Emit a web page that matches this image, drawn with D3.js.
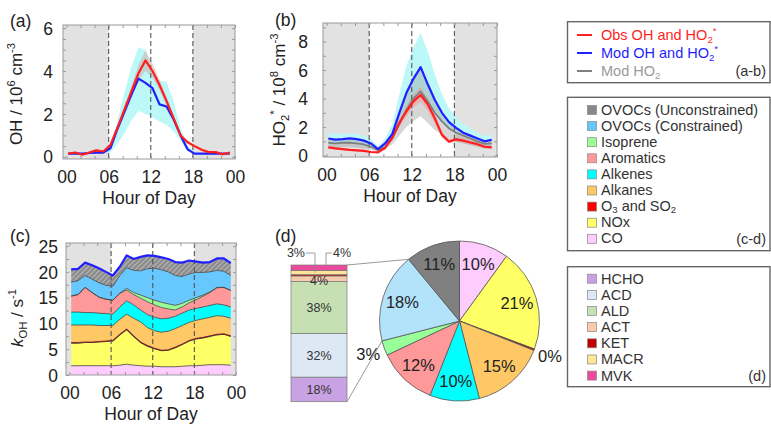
<!DOCTYPE html>
<html>
<head>
<meta charset="utf-8">
<script src="https://cdn.jsdelivr.net/npm/d3@7"></script>
<style>
  body { margin: 0; background: #fff; }
  svg { font-family: "Liberation Sans", Arial, sans-serif; }
</style>
</head>
<body>
<svg id="chart" width="771" height="424"></svg>
<script>
// ---- data ----
var hours = [0.25, 1.25, 2.25, 3.25, 4.25, 5.25, 6.25, 7.25, 8.25, 9.25, 10.25, 11.25,
             12.25, 13.25, 14.25, 15.25, 16.25, 17.25, 18.25, 19.25, 20.25, 21.25, 22.25, 23.25];
var hourTicks = [0, 6, 12, 18, 24];
var hourLabels = ["00", "06", "12", "18", "00"];

// (a) OH, 10^6 cm-3
var obsOH   = [0.15,0.2,0.1,0.2,0.3,0.25,0.55,1.35,2.2,3.05,3.9,4.5,4.0,3.35,2.6,1.8,1.0,0.68,0.5,0.33,0.22,0.22,0.12,0.2];
var obsOHlo = [0.1,0.15,0.05,0.15,0.25,0.2,0.45,1.2,2.0,2.8,3.6,4.0,3.7,3.1,2.4,1.65,0.9,0.6,0.45,0.28,0.18,0.18,0.08,0.15];
var obsOHhi = [0.2,0.25,0.15,0.25,0.35,0.3,0.65,1.5,2.4,3.3,4.3,4.95,4.35,3.6,2.8,1.95,1.1,0.76,0.55,0.38,0.26,0.26,0.16,0.25];
var modOH   = [0.15,0.15,0.15,0.18,0.2,0.2,0.4,1.3,2.1,2.9,3.65,3.45,3.2,2.45,2.35,1.75,1.0,0.35,0.15,0.15,0.15,0.15,0.15,0.15];
var modOHlo = [0.12,0.12,0.12,0.15,0.17,0.17,0.2,0.6,1.1,1.7,2.15,2.0,1.85,1.65,1.5,1.2,0.75,0.25,0.12,0.12,0.12,0.12,0.12,0.12];
var modOHhi = [0.2,0.2,0.2,0.22,0.25,0.25,0.5,1.7,3.0,4.2,5.1,5.0,4.0,3.55,3.5,2.6,1.35,0.5,0.2,0.2,0.2,0.2,0.2,0.2];

// (b) HO2*, 10^8 cm-3
var obsHO2   = [0.58,0.5,0.45,0.4,0.37,0.33,0.25,0.22,0.55,1.25,2.3,3.1,3.8,4.25,3.6,2.6,1.45,0.98,1.14,1.05,0.92,0.8,0.62,0.58];
var obsHO2lo = [0.48,0.42,0.38,0.33,0.3,0.27,0.2,0.17,0.45,1.05,2.0,2.75,3.4,3.75,3.15,2.25,1.25,0.85,1.0,0.92,0.8,0.68,0.52,0.48];
var obsHO2hi = [0.68,0.6,0.54,0.48,0.44,0.4,0.3,0.27,0.65,1.45,2.6,3.5,4.3,4.8,4.05,2.95,1.65,1.12,1.28,1.18,1.04,0.92,0.72,0.68];
var modHO2s   = [1.2,1.12,1.15,1.2,1.15,1.05,0.85,0.45,0.85,1.5,3.0,4.4,5.4,6.2,5.0,3.9,3.0,2.35,1.95,1.6,1.4,1.2,1.0,1.1];
var modHO2sHi = [1.6,1.5,1.55,1.55,1.5,1.4,1.15,0.65,1.2,2.2,4.3,6.3,7.6,8.6,7.3,5.7,4.3,3.3,2.7,2.2,1.9,1.6,1.35,1.5];
var modHO2    = [0.9,0.85,0.9,0.9,0.85,0.78,0.62,0.38,0.6,1.2,2.2,3.2,4.0,4.5,3.8,3.0,2.4,1.9,1.6,1.4,1.2,1.0,0.82,0.85];
var modHO2lo  = [0.6,0.55,0.6,0.6,0.55,0.5,0.4,0.25,0.4,0.8,1.4,2.0,2.45,2.75,2.3,1.8,1.45,1.15,0.95,0.85,0.72,0.6,0.5,0.52];

// (c) kOH contributions, s-1
var kCO        = [1.8,1.8,1.8,1.8,1.8,1.8,1.8,1.9,2.1,1.9,1.8,1.7,1.7,1.6,1.6,1.6,1.7,1.8,1.8,1.9,2.0,2.0,2.0,1.9];
var kNOx       = [4.4,4.4,4.5,4.5,4.6,4.7,4.8,5.9,6.7,5.6,4.5,3.9,3.4,3.1,3.2,3.7,4.2,4.8,5.2,5.3,5.5,5.8,5.9,5.6];
var kO3SO2     = [0.1,0.1,0.1,0.1,0.1,0.1,0.1,0.1,0.1,0.1,0.1,0.1,0.1,0.1,0.1,0.1,0.1,0.1,0.1,0.1,0.1,0.1,0.1,0.1];
var kAlkanes   = [3.4,3.4,3.3,3.3,3.1,3.0,2.9,2.9,2.9,3.4,3.9,3.5,3.4,3.5,3.6,3.6,3.6,3.5,3.5,3.6,3.6,3.6,3.4,3.4];
var kAlkenes   = [2.5,2.5,2.4,2.4,2.4,2.3,2.2,2.4,2.6,2.6,2.3,2.5,2.6,2.6,2.5,2.4,2.4,2.4,2.3,2.3,2.3,2.3,2.2,2.2];
var kAromatics = [3.1,3.4,4.9,3.9,3.1,2.8,2.7,2.6,2.1,2.0,2.3,2.5,2.4,2.2,1.8,1.2,1.2,1.4,1.7,2.1,2.5,3.1,3.4,3.2];
var kIsoprene  = [0,0,0,0,0,0,0,0.1,0.3,0.4,0.6,0.8,0.9,1.0,1.0,0.9,0.7,0.5,0.4,0.2,0.1,0.1,0,0];
var kOVOCc     = [2.7,2.7,2.3,2.6,2.8,2.7,2.7,3.4,4.0,4.3,4.7,5.6,6.2,6.3,6.2,5.8,5.2,5.1,4.9,4.4,3.9,3.3,3.1,2.9];
var kOVOCu     = [2.5,2.3,2.5,2.7,2.8,2.6,2.1,1.7,2.4,2.2,2.7,2.6,2.4,2.4,2.5,2.6,2.7,2.6,2.1,1.9,1.9,2.3,2.5,2.4];

// (d) mean shares, %
var pieNames = ["CO", "NOx", "O3 and SO2", "Alkanes", "Alkenes", "Aromatics", "Isoprene", "OVOCs (Constrained)", "OVOCs (Unconstrained)"];
var pieVals  = [10, 20.7, 0.3, 15, 10, 12, 3, 18, 11];
var barNames = ["HCHO", "ACD", "ALD", "ACT", "KET", "MACR", "MVK"];
var barVals  = [18, 32, 38, 4, 1, 3, 4];

// ---- styles ----
var FONT = '"Liberation Sans", Arial, sans-serif';
var RED = "#ff1f1f", BLUE = "#1f1fff", GREY = "#7f7f7f";
var kColors = {CO: "#ffccff", NOx: "#ffff66", O3SO2: "#ff0000", Alkanes: "#ffc866", Alkenes: "#00ffff",
               Aromatics: "#ff9999", Isoprene: "#99ff99", OVOCc: "#66c8ff", OVOCu: "#888888"};
var pieColors = ["#ffccff", "#ffff66", "#cc0000", "#ffc866", "#00ffff", "#ff9999", "#99ff99", "#b3e3fa", "#808080"];
var barColors = ["#c8a2e2", "#dde8f5", "#c6e0b4", "#f8cbad", "#c00000", "#ffe699", "#ea4a9c"];

var svg = d3.select("#chart");

var defs = svg.append("defs");
var pat = defs.append("pattern").attr("id", "hatch")
    .attr("patternUnits", "userSpaceOnUse").attr("width", 5).attr("height", 5);
pat.append("rect").attr("width", 5).attr("height", 5).attr("fill", "#8c8c8c");
pat.append("path").attr("d", "M-1,6 L6,-1 M-1,1 L1,-1 M4,6 L6,4").attr("stroke", "#b5b5b5").attr("stroke-width", 1.2);

// text with sub/superscripts: parts = [[text, kind]] kind: "", "sub", "sup", "it"
function richText(sel, parts, fs, subShift) {
  var shift = 0, sb = subShift || 0.25;
  parts.forEach(function(p) {
    var t = sel.append("tspan").text(p[0]);
    var target = p[1] === "sup" ? -0.4 * fs : (p[1] === "sub" ? sb * fs : 0);
    if (target !== shift) t.attr("dy", target - shift);
    shift = target;
    if (p[1] === "sup" || p[1] === "sub") t.attr("font-size", fs * 0.66);
    if (p[1] === "it") t.attr("font-style", "italic");
  });
}

function timePanel(o) {
  var x = d3.scaleLinear().domain([-0.5, 24]).range([o.left, o.right]);
  var y = d3.scaleLinear().domain(o.yDomain).range([o.bottom, o.top]);
  var g = svg.append("g");
  g.append("rect").attr("x", x(-0.5)).attr("y", o.top)
    .attr("width", x(6) - x(-0.5)).attr("height", o.bottom - o.top).attr("fill", "#e2e2e2");
  g.append("rect").attr("x", x(18)).attr("y", o.top)
    .attr("width", x(24) - x(18)).attr("height", o.bottom - o.top).attr("fill", "#e2e2e2");
  return {x: x, y: y, g: g, o: o};
}

function dashes(p) {
  p.g.selectAll(".dash").data([6, 12, 18]).enter().append("line")
    .attr("x1", function(d) { return p.x(d); }).attr("x2", function(d) { return p.x(d); })
    .attr("y1", p.o.top).attr("y2", p.o.bottom)
    .attr("stroke", "#555").attr("stroke-width", 1.1).attr("stroke-dasharray", "5,3");
}

function frame(p) {
  var o = p.o, g = p.g;
  g.append("rect").attr("x", o.left).attr("y", o.top)
    .attr("width", o.right - o.left).attr("height", o.bottom - o.top)
    .attr("fill", "none").attr("stroke", "#9a9a9a").attr("stroke-width", 1);
  var minor = d3.range(0, 24.1, 2);
  [["b", d3.axisBottom, o.bottom], ["t", d3.axisTop, o.top]].forEach(function(a) {
    g.append("g").attr("transform", "translate(0," + a[2] + ")")
      .call(a[1](p.x).tickValues(minor).tickSize(-3).tickFormat(""))
      .call(function(s) { s.select(".domain").remove(); s.selectAll("line").attr("stroke", "#999"); });
  });
  [[d3.axisLeft, o.left], [d3.axisRight, o.right]].forEach(function(a) {
    g.append("g").attr("transform", "translate(" + a[1] + ",0)")
      .call(a[0](p.y).tickValues(o.minorY).tickSize(-3).tickFormat(""))
      .call(function(s) { s.select(".domain").remove(); s.selectAll("line").attr("stroke", "#999"); });
  });
  // labelled axes
  g.append("g").attr("transform", "translate(0," + o.bottom + ")")
    .call(d3.axisBottom(p.x).tickValues(hourTicks).tickSize(0)
      .tickFormat(function(d, i) { return hourLabels[i]; }))
    .call(function(s) {
      s.select(".domain").remove();
      s.selectAll("text").attr("y", 24).attr("dy", 0).attr("font-size", 17.5)
        .attr("font-family", FONT).attr("fill", "#222");
    });
  g.append("g").attr("transform", "translate(" + o.left + ",0)")
    .call(d3.axisLeft(p.y).tickValues(o.yTicks).tickSize(0).tickPadding(o.gap).tickFormat(d3.format("d")))
    .call(function(s) {
      s.select(".domain").remove();
      s.selectAll("text").attr("dy", "0.35em").attr("font-size", 17.5)
        .attr("font-family", FONT).attr("fill", "#222");
    });
  g.append("text").attr("x", (o.left + o.right) / 2).attr("y", o.bottom + 45)
    .attr("text-anchor", "middle").attr("font-size", 17.5).attr("fill", "#222").text("Hour of Day");
  var yl = g.append("text").attr("transform", "translate(" + o.ylx + "," + o.yly + ") rotate(-90)")
    .attr("text-anchor", "middle").attr("font-size", 17).attr("fill", "#222");
  richText(yl, o.ylabel, 17);
  g.append("text").attr("x", o.tagX).attr("y", o.tagY).attr("font-size", 17.5).attr("fill", "#222").text(o.tag);
}

function band(p, lo, hi, fill) {
  var area = d3.area().x(function(d, i) { return p.x(hours[i]); })
    .y0(function(d, i) { return p.y(lo[i]); }).y1(function(d, i) { return p.y(hi[i]); });
  p.g.append("path").datum(hours).attr("d", area).attr("fill", fill);
}
function series(p, vals, color, w) {
  var line = d3.line().x(function(d, i) { return p.x(hours[i]); }).y(function(d) { return p.y(d); });
  p.g.append("path").datum(vals).attr("d", line).attr("fill", "none")
    .attr("stroke", color).attr("stroke-width", w).attr("stroke-linejoin", "round");
}

// ---- (a) ----
var pa = timePanel({left: 63, right: 235, top: 25, bottom: 159, yDomain: [-0.1, 6.15],
  yTicks: [0, 2, 4, 6], minorY: d3.range(0, 6.1, 0.5), gap: 10, ylx: 22, yly: 94,
  ylabel: [["OH / 10", ""], ["6", "sup"], [" cm", ""], ["-3", "sup"]], tag: "(a)", tagX: 10, tagY: 27});
band(pa, modOHlo, modOHhi, "#bdf8f8");
band(pa, obsOHlo, obsOHhi, "rgba(205,160,160,0.45)");
dashes(pa);
series(pa, modOH, BLUE, 2.2);
series(pa, obsOH, RED, 2.2);
frame(pa);

// ---- (b) ----
var pb = timePanel({left: 323, right: 497, top: 23, bottom: 157, yDomain: [-0.1, 9.3],
  yTicks: [0, 2, 4, 6, 8], minorY: d3.range(0, 9.1, 1), gap: 15, ylx: 285, yly: 90,
  ylabel: [["HO", ""], ["2", "sub"], ["*", "sup"], [" / 10", ""], ["8", "sup"], [" cm", ""], ["-3", "sup"]],
  tag: "(b)", tagX: 275, tagY: 26});
band(pb, modHO2, modHO2sHi, "#bdf8f8");
band(pb, modHO2lo, modHO2s, "rgba(150,150,150,0.38)");
band(pb, obsHO2lo, obsHO2hi, "rgba(255,120,120,0.35)");
dashes(pb);
series(pb, modHO2, GREY, 1.8);
series(pb, obsHO2, RED, 2.2);
series(pb, modHO2s, BLUE, 2.2);
frame(pb);

// ---- (c) ----
var pc = timePanel({left: 66, right: 236, top: 243, bottom: 375, yDomain: [0, 25.6],
  yTicks: [0, 5, 10, 15, 20, 25], minorY: d3.range(0, 25.1, 2.5), gap: 8, ylx: 23, yly: 318,
  ylabel: [["k", "it"], ["OH", "sub"], [" / s", ""], ["-1", "sup"]], tag: "(c)", tagX: 10, tagY: 242});
var kKeys = ["CO", "NOx", "O3SO2", "Alkanes", "Alkenes", "Aromatics", "Isoprene", "OVOCc", "OVOCu"];
var kSeries = {CO: kCO, NOx: kNOx, O3SO2: kO3SO2, Alkanes: kAlkanes, Alkenes: kAlkenes,
               Aromatics: kAromatics, Isoprene: kIsoprene, OVOCc: kOVOCc, OVOCu: kOVOCu};
var kRows = hours.map(function(h, i) {
  var r = {h: h};
  kKeys.forEach(function(k) { r[k] = kSeries[k][i]; });
  return r;
});
var stacked = d3.stack().keys(kKeys)(kRows);
var kArea = d3.area().x(function(d) { return pc.x(d.data.h); })
  .y0(function(d) { return pc.y(d[0]); }).y1(function(d) { return pc.y(d[1]); });
var kTop = d3.line().x(function(d) { return pc.x(d.data.h); }).y(function(d) { return pc.y(d[1]); });
pc.g.selectAll(".layer").data(stacked).enter().append("path")
  .attr("d", kArea)
  .attr("fill", function(d) { return d.key === "OVOCu" ? "url(#hatch)" : kColors[d.key]; });
pc.g.selectAll(".edge").data(stacked.slice(0, 8)).enter().append("path")
  .attr("d", kTop).attr("fill", "none")
  .attr("stroke", function(d) { return d.key === "O3SO2" ? "#8b1010" : "#444"; })
  .attr("stroke-width", function(d) { return d.key === "NOx" ? 1.2 : 0.8; });
dashes(pc);
pc.g.append("path").datum(stacked[stacked.length - 1]).attr("d", kTop).attr("fill", "none")
  .attr("stroke", BLUE).attr("stroke-width", 2.2).attr("stroke-linejoin", "round");
frame(pc);

// ---- (d) ----
svg.append("text").attr("x", 275).attr("y", 242).attr("font-size", 17.5).attr("fill", "#222").text("(d)");
var barX0 = 291, barX1 = 347;
var by = d3.scaleLinear().domain([0, 100]).range([401.7, 265]);
var barStack = d3.cumsum(barVals);
var bd = svg.append("g");
bd.selectAll("rect").data(barVals).enter().append("rect")
  .attr("x", barX0).attr("width", barX1 - barX0)
  .attr("y", function(d, i) { return by(barStack[i]); })
  .attr("height", function(d, i) { return by(barStack[i] - d) - by(barStack[i]); })
  .attr("fill", function(d, i) { return barColors[i]; })
  .attr("stroke", "#7a7a7a").attr("stroke-width", 0.7);
bd.selectAll(".blab").data(barVals.slice(0, 4)).enter().append("text")
  .attr("x", (barX0 + barX1) / 2)
  .attr("y", function(d, i) { return by(barStack[i] - d / 2) + (i === 3 ? 2 : 0); })
  .attr("dy", "0.35em").attr("text-anchor", "middle").attr("font-size", 12.5).attr("fill", "#333")
  .text(function(d) { return d + "%"; });
// outside labels for MACR and MVK
var macrMid = by(barStack[5] - barVals[5] / 2), mvkMid = by(barStack[6] - barVals[6] / 2);
bd.append("path").attr("d", "M306,253 H315 V" + macrMid).attr("fill", "none").attr("stroke", "#888").attr("stroke-width", 0.8);
bd.append("path").attr("d", "M332,253 H326 V" + mvkMid).attr("fill", "none").attr("stroke", "#888").attr("stroke-width", 0.8);
bd.append("text").attr("x", 305).attr("y", 253).attr("dy", "0.35em").attr("text-anchor", "end")
  .attr("font-size", 12.5).attr("fill", "#333").text(barVals[5] + "%");
bd.append("text").attr("x", 333).attr("y", 253).attr("dy", "0.35em")
  .attr("font-size", 12.5).attr("fill", "#333").text(barVals[6] + "%");

// pie
var cx = 459.5, cy = 321, R = 80;
var arcs = d3.pie().sort(null)(pieVals);
var arcGen = d3.arc().innerRadius(0).outerRadius(R);
var pg = svg.append("g").attr("transform", "translate(" + cx + "," + cy + ")");
pg.selectAll("path").data(arcs).enter().append("path")
  .attr("d", arcGen).attr("fill", function(d, i) { return pieColors[i]; })
  .attr("stroke", "#555").attr("stroke-width", 0.8);
// links bar -> OVOCs (constrained) slice
var ov = arcs[7];
function rim(a) { return [cx + R * Math.sin(a), cy - R * Math.cos(a)]; }
var pTop = rim(ov.endAngle), pBot = rim(ov.startAngle);
svg.append("line").attr("x1", barX1).attr("y1", by(100)).attr("x2", pTop[0]).attr("y2", pTop[1])
  .attr("stroke", "#999").attr("stroke-width", 1);
svg.append("line").attr("x1", barX1).attr("y1", by(0)).attr("x2", pBot[0]).attr("y2", pBot[1])
  .attr("stroke", "#999").attr("stroke-width", 1);
pg.selectAll("text").data(arcs).enter().append("text")
  .attr("transform", function(d) {
    var a = (d.startAngle + d.endAngle) / 2, r = d.value < 5 ? 97 : 60;
    return "translate(" + (r * Math.sin(a)) + "," + (-r * Math.cos(a)) + ")";
  })
  .attr("dy", "0.35em").attr("text-anchor", "middle").attr("font-size", 16.5).attr("fill", "#222")
  .text(function(d) { return Math.round(d.value) + "%"; });

// ---- legends ----
function legendBox(y0, y1) {
  svg.append("rect").attr("x", 567.5).attr("y", y0).attr("width", 202.5).attr("height", y1 - y0)
    .attr("fill", "#fff").attr("stroke", "#666").attr("stroke-width", 1.4);
}
legendBox(21.7, 82.7);
var leg1 = [
  {c: RED, parts: [["Obs OH and HO", ""], ["2", "sub"], ["*", "sup"]]},
  {c: BLUE, parts: [["Mod OH and HO", ""], ["2", "sub"], ["*", "sup"]]},
  {c: GREY, tc: "#9a9a9a", parts: [["Mod HO", ""], ["2", "sub"]]}
];
leg1.forEach(function(d, i) {
  var yy = 35 + i * 18;
  svg.append("line").attr("x1", 577).attr("x2", 592).attr("y1", yy).attr("y2", yy)
    .attr("stroke", d.c).attr("stroke-width", 2);
  var t = svg.append("text").attr("x", 601).attr("y", yy + 5).attr("font-size", 14.5).attr("fill", d.tc || d.c);
  richText(t, d.parts, 14.5, 0.2);
});
svg.append("text").attr("x", 766).attr("y", 76).attr("text-anchor", "end").attr("font-size", 14.5).attr("fill", "#333").text("(a-b)");

legendBox(97.3, 250.7);
var leg2Keys = kKeys.slice().reverse();
var leg2Text = {OVOCu: [["OVOCs (Unconstrained)", ""]], OVOCc: [["OVOCs (Constrained)", ""]], Isoprene: [["Isoprene", ""]],
  Aromatics: [["Aromatics", ""]], Alkenes: [["Alkenes", ""]], Alkanes: [["Alkanes", ""]],
  O3SO2: [["O", ""], ["3", "sub"], [" and SO", ""], ["2", "sub"]], NOx: [["NOx", ""]], CO: [["CO", ""]]};
leg2Keys.forEach(function(k, i) {
  var yy = 110 + i * 16.1;
  svg.append("rect").attr("x", 587.5).attr("y", yy - 4.5).attr("width", 9).attr("height", 9)
    .attr("fill", kColors[k]).attr("stroke", "#888").attr("stroke-width", 0.7);
  var t = svg.append("text").attr("x", 601).attr("y", yy + 4.5).attr("font-size", 14.5).attr("fill", "#333");
  richText(t, leg2Text[k], 14.5, 0.15);
});
svg.append("text").attr("x", 766).attr("y", 244).attr("text-anchor", "end").attr("font-size", 14.5).attr("fill", "#333").text("(c-d)");

legendBox(266.7, 386.7);
barNames.forEach(function(n, i) {
  var yy = 278.7 + i * 16.15;
  svg.append("rect").attr("x", 587.5).attr("y", yy - 4.5).attr("width", 9).attr("height", 9)
    .attr("fill", barColors[i]).attr("stroke", "#888").attr("stroke-width", 0.7);
  svg.append("text").attr("x", 601).attr("y", yy + 5).attr("font-size", 14.5).attr("fill", "#333").text(n);
});
svg.append("text").attr("x", 766).attr("y", 380.6).attr("text-anchor", "end").attr("font-size", 14.5).attr("fill", "#333").text("(d)");
</script>
</body>
</html>
